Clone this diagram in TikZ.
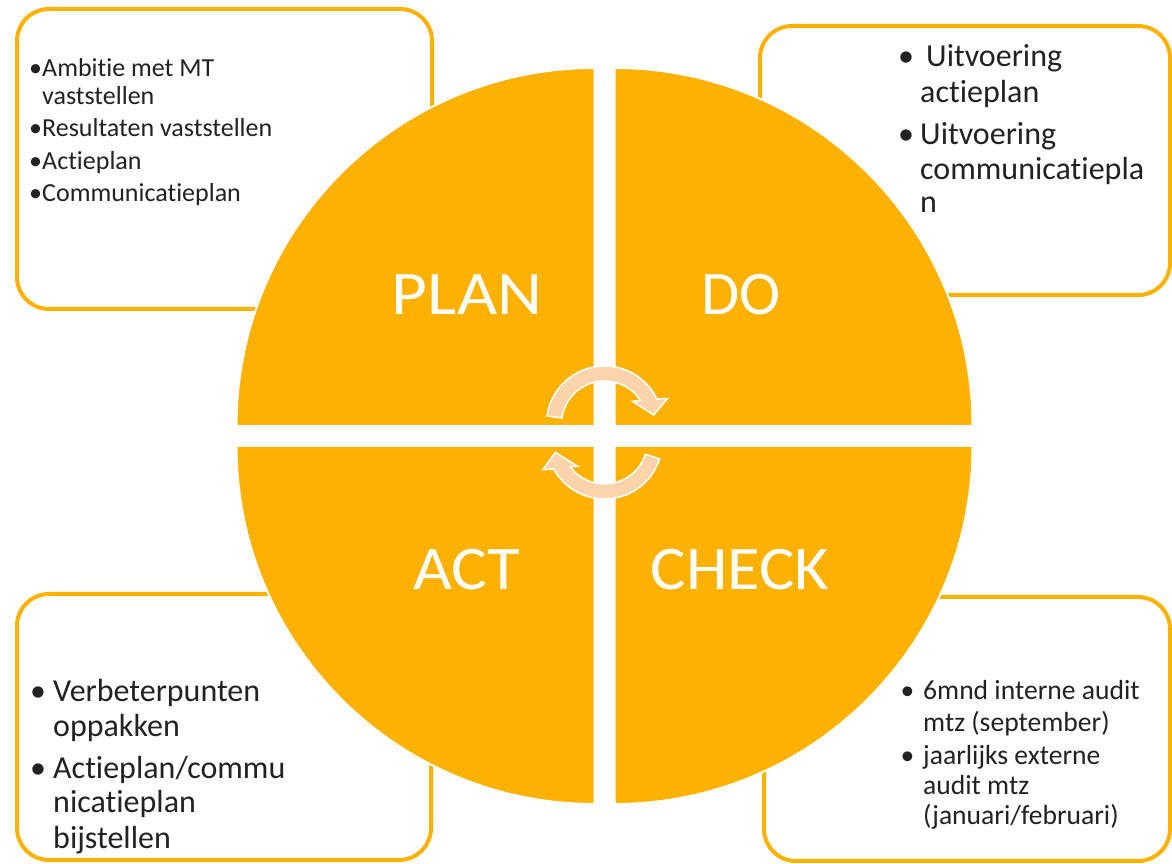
\documentclass[tikz,border=0pt]{standalone}
\usepackage{fontspec}
\setmainfont{Carlito}[Ligatures={NoCommon}]
\usetikzlibrary{calc}
\definecolor{pdcaorange}{HTML}{FDB100}
\definecolor{arrowfill}{HTML}{FCD4AC}
\definecolor{txt}{HTML}{222222}
\tikzset{
  quad/.style={fill=pdcaorange, draw=white, line width=2pt},
  infobox/.style={draw=pdcaorange, line width=4pt, rounded corners=32pt, fill=white},
  biglabel/.style={text=white, anchor=base, inner sep=0pt, font=\fontsize{62}{62}\selectfont},
  cyc/.style={fill=arrowfill, draw=white, line width=1.5pt, line join=miter},
  tsmall/.style={text=txt, anchor=base west, inner sep=0pt, font=\fontsize{26}{28}\selectfont},
  tbig/.style={text=txt, anchor=base west, inner sep=0pt, font=\fontsize{32}{35}\selectfont},
  tmid/.style={text=txt, anchor=base west, inner sep=0pt, font=\fontsize{27.6}{31}\selectfont},
  bsmall/.style={text=txt, anchor=base, inner sep=0pt, font=\fontsize{26}{28}\selectfont},
  bbig/.style={text=txt, anchor=base, inner sep=0pt, font=\fontsize{32}{35}\selectfont},
  bmid/.style={text=txt, anchor=base, inner sep=0pt, font=\fontsize{27.6}{31}\selectfont},
}
\begin{document}
\begin{tikzpicture}[x=1pt,y=1pt]
\useasboundingbox (0,0) rectangle (1172,864);
\fill[white] (0,0) rectangle (1172,864);

% boxes
\draw[infobox] (17,555) rectangle (432,855);
\draw[infobox] (760,569) rectangle (1170,838);
\draw[infobox] (17,4) rectangle (431,270);
\draw[infobox] (764,3) rectangle (1170,267);

% quadrants
\coordinate (cp) at (594.5,438);
\coordinate (cd) at (614.5,438);
\coordinate (ca) at (594.5,418);
\coordinate (cc) at (614.5,418);
\draw[quad] (cp) -- ++(-358,0) arc[start angle=180,end angle=90,radius=358] -- cycle;
\draw[quad] (cd) -- ++(0,358) arc[start angle=90,end angle=0,radius=358] -- cycle;
\draw[quad] (ca) -- ++(0,-358) arc[start angle=270,end angle=180,radius=358] -- cycle;
\draw[quad] (cc) -- ++(358,0) arc[start angle=0,end angle=-90,radius=358] -- cycle;

% labels
\node[biglabel] (plan) at (467,549) {\scalebox{1.12}[1]{PLAN}};
\node[biglabel] (do) at (741,549) {DO};
\node[biglabel] (act) at (466.5,274) {\scalebox{1.08}[1]{ACT}};
\node[biglabel] (check) at (740,274) {\scalebox{1.07}[1]{CHECK}};

% cycle arrows
\coordinate (T) at (604.5,440);
\coordinate (B) at (604.5,423);
\draw[cyc] ($(T)+(172:58)$) arc[start angle=172,end angle=25.5,radius=58]
  -- ($(T)+(22:68)$) -- ($(T)+(10.5:50)$) -- ($(T)+(39:36)$) -- ($(T)+(33:43)$)
  arc[start angle=33,end angle=172,radius=43] -- cycle;
\draw[cyc] ($(B)+(342:58)$) arc[start angle=342,end angle=209,radius=58]
  -- ($(B)+(205:68)$) -- ($(B)+(193:50.5)$) -- ($(B)+(223:37)$) -- ($(B)+(217:43)$)
  arc[start angle=217,end angle=342,radius=43] -- cycle;

% top-left text
\node[bsmall] (tlb1) at (35.5,787) {•};
\node[tsmall] (tl1) at (42,787) {Ambitie met MT};
\node[tsmall] (tl2) at (42,759) {vaststellen};
\node[bsmall] (tlb2) at (35.5,727) {•};
\node[tsmall] (tl3) at (42,727) {Resultaten vaststellen};
\node[bsmall] (tlb3) at (35.5,694) {•};
\node[tsmall] (tl4) at (42,694) {Actieplan};
\node[bsmall] (tlb4) at (35.5,662) {•};
\node[tsmall] (tl5) at (42,662) {Communicatieplan};

% top-right text
\node[bbig] (trb1) at (906,797) {•};
\node[tbig] (tr1) at (926,797) {Uitvoering};
\node[tbig] (tr2) at (920,761) {actieplan};
\node[bbig] (trb2) at (906,719) {•};
\node[tbig] (tr3) at (920,719) {Uitvoering};
\node[tbig] (tr4) at (920,684) {communicatiepla};
\node[tbig] (tr5) at (920,651) {n};

% bottom-left text
\node[bbig] (blb1) at (38,162) {•};
\node[tbig] (bl1) at (53,162) {Verbeterpunten};
\node[tbig] (bl2) at (53,127) {oppakken};
\node[bbig] (blb2) at (38,85) {•};
\node[tbig] (bl3) at (53,85) {Actieplan/commu};
\node[tbig] (bl4) at (53,51) {nicatieplan};
\node[tbig] (bl5) at (53,15) {bijstellen};

% bottom-right text
\node[bmid] (brb1) at (907.5,164) {•};
\node[tmid] (br1) at (923,164) {6mnd interne audit};
\node[tmid] (br2) at (923,132) {mtz (september)};
\node[bmid] (brb2) at (907.5,99) {•};
\node[tmid] (br3) at (923,99) {jaarlijks externe};
\node[tmid] (br4) at (923,69) {audit mtz};
\node[tmid] (br5) at (923,39) {(januari/februari)};
\end{tikzpicture}
\end{document}
